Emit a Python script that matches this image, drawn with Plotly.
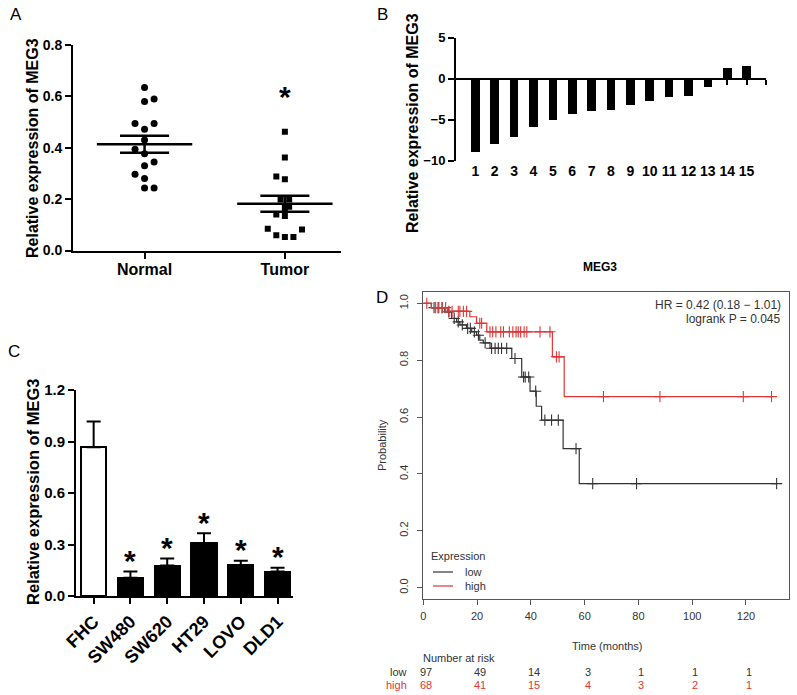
import plotly.graph_objects as go
import numpy as np

W, H = 797, 695
def fx(px): return px / W
def fy(py): return 1 - py / H

FONT = "Liberation Sans, Arial, sans-serif"

# ---------------- Panel A data ----------------
groups = ["Normal", "Tumor"]
normal_vals = [0.635, 0.59, 0.58, 0.494, 0.494, 0.472, 0.43, 0.394, 0.377, 0.345, 0.33, 0.297, 0.28, 0.243, 0.243]
normal_cols = [0, 1, 0, -1, 1, 0, 0, -1, 0, 1, 0, -1, 0, 0, 1]
tumor_vals = [0.462, 0.362, 0.288, 0.277, 0.199, 0.199, 0.170, 0.165, 0.140, 0.134, 0.085, 0.082, 0.059, 0.053, 0.053]
tumor_cols = [0, 0, -1, 0, -0.5, 0.5, 0.5, 0, -1, 0, -2, 2, -1, 0, 1]

# ---------------- Panel B data ----------------
samples = list(range(1, 16))
b_vals = [-8.94, -7.93, -7.11, -5.81, -4.96, -4.27, -3.94, -3.74, -3.17, -2.64, -2.24, -2.11, -1.02, 1.30, 1.54]

# ---------------- Panel C data ----------------
cells = ["FHC", "SW480", "SW620", "HT29", "LOVO", "DLD1"]
c_vals = [0.866, 0.107, 0.177, 0.307, 0.181, 0.142]
c_err = [0.150, 0.035, 0.042, 0.058, 0.025, 0.023]
c_sig = [False, True, True, True, True, True]

# ---------------- Panel D data ----------------
low_times = [0, 3, 8, 10.5, 12.4, 13.6, 16.1, 18, 19.8, 21, 22.3, 24.8, 32.9, 36.6, 39.7, 42, 44, 52, 58]
low_surv = [1, 0.985, 0.97, 0.947, 0.935, 0.924, 0.912, 0.9, 0.888, 0.871, 0.861, 0.842, 0.806, 0.741, 0.691, 0.638, 0.589, 0.489, 0.366]
low_end = 131.4
low_cens = [4, 5.5, 7, 9.5, 11.5, 13, 14.5, 16.5, 17.5, 19, 20.5, 23, 25.4, 26.7, 27.9, 29.1, 31,
            34.1, 37.3, 37.9, 39.2, 41.8, 45.2, 47.7, 50.2, 56.8, 63, 79.3, 131.4]
high_times = [0, 3, 9, 17.3, 19.8, 23.6, 48, 52.4]
high_surv = [1, 0.985, 0.972, 0.953, 0.93, 0.90, 0.812, 0.672]
high_end = 129.5
high_cens = [1.3, 4.6, 5.8, 7, 8.3, 9.5, 10.7, 13, 13.6, 14.9, 16.1, 21, 21.7, 24.8, 25.8, 27, 28.8,
             29.8, 32, 33.3, 34.5, 35.3, 36.2, 37.5, 38.5, 43.4, 47.1, 49.5, 50.5, 67, 88, 119, 129.5]
risk_times = [0, 20, 40, 60, 80, 100, 120]
risk_low = [97, 49, 14, 3, 1, 1, 1]
risk_high = [68, 41, 15, 4, 3, 2, 1]
hr_text = ["HR = 0.42 (0.18 \u2212 1.01)", "logrank P = 0.045"]
groups_d = ["low", "high"]

LOW_C = "#333333"
HIGH_C = "#e03535"

fig = go.Figure()

# ---------- Panel A traces ----------
def mean_sem(v):
    v = np.asarray(v, float)
    return v.mean(), v.std(ddof=1) / np.sqrt(len(v))

col_sp_n = 0.068
col_sp_t = 0.061
fig.add_trace(go.Scatter(x=[0 + c * col_sp_n for c in normal_cols], y=normal_vals, mode="markers",
                         marker=dict(symbol="circle", size=7, color="black"), xaxis="x", yaxis="y", showlegend=False))
fig.add_trace(go.Scatter(x=[1 + c * col_sp_t for c in tumor_cols], y=tumor_vals, mode="markers",
                         marker=dict(symbol="square", size=6, color="black"), xaxis="x", yaxis="y", showlegend=False))
for gi, vals in enumerate([normal_vals, tumor_vals]):
    m, s = mean_sem(vals)
    xs = [gi - 0.34, gi + 0.34, None, gi - 0.175, gi + 0.175, None, gi - 0.175, gi + 0.175, None, gi, gi]
    ys = [m, m, None, m + s, m + s, None, m - s, m - s, None, m - s, m + s]
    fig.add_trace(go.Scatter(x=xs, y=ys, mode="lines", line=dict(color="black", width=2.5),
                             xaxis="x", yaxis="y", showlegend=False, hoverinfo="skip"))

# ---------- Panel B traces ----------
fig.add_trace(go.Bar(x=samples, y=b_vals, width=0.45, marker=dict(color="black", line=dict(width=0)),
                     xaxis="x2", yaxis="y2", showlegend=False))
fig.add_trace(go.Scatter(x=[samples[0]], y=[0], mode="markers", marker=dict(opacity=0),
                         xaxis="x3", yaxis="y2", showlegend=False, hoverinfo="skip"))

# ---------- Panel C traces ----------
cx = list(range(len(cells)))
fig.add_trace(go.Bar(x=cx, y=c_vals, width=0.68,
                     marker=dict(color=["white"] + ["black"] * (len(cells) - 1), line=dict(color="black", width=2)),
                     error_y=dict(type="data", symmetric=False, array=c_err, arrayminus=[0] * len(cells),
                                  color="black", thickness=2, width=7),
                     xaxis="x4", yaxis="y4", showlegend=False))

# ---------- Panel D traces ----------
def km_xy(times, surv, end):
    return list(times) + [end], list(surv) + [surv[-1]]

def surv_at(times, surv, t):
    idx = np.searchsorted(np.asarray(times), np.asarray(t), side="right") - 1
    return [surv[i] for i in idx]

for name, times, surv, end, cens, col in [("low", low_times, low_surv, low_end, low_cens, LOW_C),
                                          ("high", high_times, high_surv, high_end, high_cens, HIGH_C)]:
    kx, ky = km_xy(times, surv, end)
    fig.add_trace(go.Scatter(x=kx, y=ky, mode="lines", line=dict(color=col, width=1.2, shape="hv"),
                             name=name, xaxis="x5", yaxis="y5", showlegend=False))
    fig.add_trace(go.Scatter(x=cens, y=surv_at(times, surv, cens), mode="markers",
                             marker=dict(symbol="cross-thin-open", size=8, color=col, line=dict(color=col, width=1.1)),
                             xaxis="x5", yaxis="y5", showlegend=False, hoverinfo="skip"))

# ---------- Layout ----------
boldf = lambda s: dict(family=FONT, size=s, color="black", weight="bold")

a_dom_y = [fy(250.5), fy(45)]
b_dom_y = [fy(160.7), fy(37.7)]
b_yr = [-10, 5]
b_zero = b_dom_y[0] + (0 - b_yr[0]) / (b_yr[1] - b_yr[0]) * (b_dom_y[1] - b_dom_y[0])
c_dom_y = [fy(596), fy(390)]
d_dom_x = [fx(423.3), fx(789)]
d_dom_y = [fy(599), fy(292)]

common = dict(showgrid=False, zeroline=False, automargin=False)

fig.update_layout(
    template="none",
    width=W, height=H, margin=dict(l=0, r=0, t=0, b=0, pad=0), autosize=False,
    paper_bgcolor="white", plot_bgcolor="rgba(0,0,0,0)",
    font=dict(family=FONT, color="black"),
    bargap=0, showlegend=False,
    xaxis=dict(domain=[fx(73), fx(341)], range=[-0.51, 1.40], tickvals=[0, 1], ticktext=groups,
               showline=True, linecolor="black", linewidth=2, ticks="outside", ticklen=6, tickwidth=2,
               tickcolor="black", tickfont=boldf(16), ticklabelstandoff=-3, anchor="y", **common),
    yaxis=dict(domain=a_dom_y, range=[0, 0.8], tickvals=[0, 0.2, 0.4, 0.6, 0.8], tickformat=".1f",
               showline=True, linecolor="black", linewidth=2, ticks="outside", ticklen=6, tickwidth=2,
               tickcolor="black", tickfont=boldf(14), anchor="x", **common),
    xaxis2=dict(domain=[fx(456), fx(766)], range=[0, 16], tickvals=samples, ticktext=[str(s) for s in samples],
                showline=False, ticks="", tickfont=boldf(14), anchor="y2", **common),
    xaxis3=dict(domain=[fx(456), fx(766)], range=[0, 16], overlaying="x2", anchor="free", position=b_zero,
                tickvals=samples + [16], showticklabels=False, showline=True, linecolor="black", linewidth=2,
                ticks="outside", ticklen=5, tickwidth=2, tickcolor="black", **common),
    yaxis2=dict(domain=b_dom_y, range=b_yr, tickvals=[-10, -5, 0, 5],
                showline=True, linecolor="black", linewidth=2, ticks="outside", ticklen=6, tickwidth=2,
                tickcolor="black", tickfont=boldf(13), anchor="x2", **common),
    xaxis4=dict(domain=[fx(76), fx(293)], range=[-0.48, 5.42], tickvals=cx, ticktext=cells, tickangle=-45,
                showline=True, linecolor="black", linewidth=2, ticks="outside", ticklen=6, tickwidth=2,
                tickcolor="black", tickfont=boldf(18), anchor="y4", **common),
    yaxis4=dict(domain=c_dom_y, range=[0, 1.2], tickvals=[0, 0.3, 0.6, 0.9, 1.2], tickformat=".1f",
                showline=True, linecolor="black", linewidth=2, ticks="outside", ticklen=6, tickwidth=2,
                tickcolor="black", tickfont=boldf(15), anchor="x4", **common),
    xaxis5=dict(domain=d_dom_x, range=[0, 136], tickvals=risk_times,
                showline=True, mirror=True, linecolor="#555555", linewidth=1, ticks="outside", ticklen=5,
                tickwidth=1, tickcolor="#555555", tickfont=dict(family=FONT, size=11, color="#333333"),
                ticklabelstandoff=2, anchor="y5", **common),
    yaxis5=dict(domain=d_dom_y, range=[-0.04, 1.04], tickvals=[0, 0.2, 0.4, 0.6, 0.8, 1.0], tickformat=".1f",
                tickangle=-90, showline=True, mirror=True, linecolor="#555555", linewidth=1, ticks="outside",
                ticklen=5, tickwidth=1, tickcolor="#555555", tickfont=dict(family=FONT, size=11, color="#333333"),
                ticklabelstandoff=5, anchor="x5", **common),
)

ann = []
def pa(text, x, y, size, bold=False, color="black", angle=0, xanchor="center", yanchor="middle"):
    ann.append(dict(text=text, x=fx(x), y=fy(y), xref="paper", yref="paper", showarrow=False,
                    textangle=angle, xanchor=xanchor, yanchor=yanchor,
                    font=dict(family=FONT, size=size, color=color, weight="bold" if bold else "normal")))

pa("A", 16, 15, 17)
pa("B", 382, 15, 17)
pa("C", 14, 351, 17)
pa("D", 382, 298, 17)
pa("Relative expression of MEG3", 33, 148, 16, bold=True, angle=-90)
pa("Relative expression of MEG3", 413, 123, 16, bold=True, angle=-90)
pa("MEG3", 600, 267, 12, bold=True)
pa("Relative expression of MEG3", 33, 492, 16.5, bold=True, angle=-90)
ann.append(dict(text="*", x=1, y=max(tumor_vals), xref="x", yref="y", showarrow=False, yshift=35,
                xanchor="center", yanchor="middle",
                font=dict(family=FONT, size=30, color="black", weight="bold")))
for i, (v, e, s) in enumerate(zip(c_vals, c_err, c_sig)):
    if s:
        ann.append(dict(text="*", x=i, y=v + e, xref="x4", yref="y4", showarrow=False, yshift=11,
                        xanchor="center", yanchor="middle",
                        font=dict(family=FONT, size=30, color="black", weight="bold")))
pa("Probability", 382, 445, 11, color="#333333", angle=-90)
pa("Time (months)", 607, 646, 11, color="#333333")
pa(hr_text[0], 783, 305, 12, color="#333333", xanchor="right")
pa(hr_text[1], 783, 319, 12, color="#333333", xanchor="right")
pa("Number at risk", 459, 658, 11, color="#333333")
pa("low", 409, 672, 11, color="#333333", xanchor="right")
pa("high", 409, 685, 11, color=HIGH_C, xanchor="right")
for t, nl, nh in zip(risk_times, risk_low, risk_high):
    ann.append(dict(text=str(nl), x=t, y=fy(672), xref="x5", yref="paper", showarrow=False, xshift=3,
                    xanchor="center", yanchor="middle",
                    font=dict(family=FONT, size=11, color="#333333")))
    ann.append(dict(text=str(nh), x=t, y=fy(685), xref="x5", yref="paper", showarrow=False, xshift=3,
                    xanchor="center", yanchor="middle",
                    font=dict(family=FONT, size=11, color=HIGH_C)))

# KM legend (manual key)
pa("Expression", 429, 556, 11, color="#333333", xanchor="left")
shapes = []
for k, (g, col) in enumerate(zip(groups_d, [LOW_C, HIGH_C])):
    yy = 572 + 14 * k
    pa(g, 463, yy, 11, color="#333333", xanchor="left")
    shapes.append(dict(type="line", xref="paper", yref="paper", x0=fx(433), x1=fx(453), y0=fy(yy), y1=fy(yy),
                       line=dict(color=col, width=1.2)))
fig.update_layout(annotations=ann, shapes=shapes)

fig.write_html("out.html", config={"displayModeBar": False},
               post_script="document.body.style.margin='0';document.body.style.overflow='hidden';")
